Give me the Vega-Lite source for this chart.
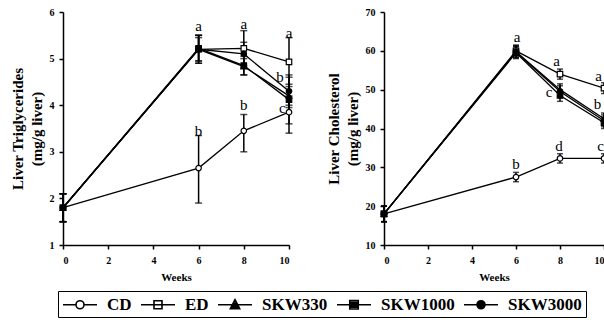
{
  "$schema": "https://vega.github.io/schema/vega-lite/v6.json",
  "padding": {"left": 10, "top": 7, "right": 0, "bottom": 0},
  "background": "white",
  "bounds": "flush",
  "config": {
    "view": {"stroke": null},
    "axis": {
      "grid": false,
      "labelFont": "Liberation Serif",
      "labelFontWeight": "bold",
      "labelFontSize": 10,
      "labelColor": "black",
      "titleFont": "Liberation Serif",
      "titleFontWeight": "bold",
      "titleColor": "black",
      "domainColor": "black",
      "domainWidth": 1.5,
      "tickColor": "black",
      "tickWidth": 1.5,
      "tickSize": 4
    },
    "axisX": {"titleFontSize": 11, "titlePadding": 6, "labelPadding": 6},
    "axisY": {"titleFontSize": 15, "titleLineHeight": 19, "titlePadding": 5, "labelPadding": 5}
  },
  "datasets": {
    "tg": [
      {"diet": "CD", "week": 0, "value": 1.8, "lo": 1.5, "hi": 2.1},
      {"diet": "CD", "week": 6, "value": 2.65, "lo": 1.9, "hi": 3.35},
      {"diet": "CD", "week": 8, "value": 3.45, "lo": 3.0, "hi": 3.8},
      {"diet": "CD", "week": 10, "value": 3.85, "lo": 3.4, "hi": 4.2},
      {"diet": "ED", "week": 0, "value": 1.8, "lo": 1.5, "hi": 2.1},
      {"diet": "ED", "week": 6, "value": 5.2, "lo": 4.9, "hi": 5.5},
      {"diet": "ED", "week": 8, "value": 5.22, "lo": 4.8, "hi": 5.6},
      {"diet": "ED", "week": 10, "value": 4.93, "lo": 4.4, "hi": 5.45},
      {"diet": "SKW330", "week": 0, "value": 1.8, "lo": 1.5, "hi": 2.1},
      {"diet": "SKW330", "week": 6, "value": 5.2, "lo": 4.95, "hi": 5.45},
      {"diet": "SKW330", "week": 8, "value": 4.83, "lo": 4.65, "hi": 5.0},
      {"diet": "SKW330", "week": 10, "value": 4.2, "lo": 3.95, "hi": 4.45},
      {"diet": "SKW1000", "week": 0, "value": 1.8, "lo": 1.5, "hi": 2.1},
      {"diet": "SKW1000", "week": 6, "value": 5.22, "lo": 4.95, "hi": 5.5},
      {"diet": "SKW1000", "week": 8, "value": 4.85, "lo": 4.65, "hi": 5.05},
      {"diet": "SKW1000", "week": 10, "value": 4.12, "lo": 3.6, "hi": 4.65},
      {"diet": "SKW3000", "week": 0, "value": 1.8, "lo": 1.5, "hi": 2.1},
      {"diet": "SKW3000", "week": 6, "value": 5.2, "lo": 4.9, "hi": 5.5},
      {"diet": "SKW3000", "week": 8, "value": 5.1, "lo": 4.85, "hi": 5.35},
      {"diet": "SKW3000", "week": 10, "value": 4.3, "lo": 4.0, "hi": 4.6}
    ],
    "ch": [
      {"diet": "CD", "week": 0, "value": 18, "lo": 16, "hi": 20},
      {"diet": "CD", "week": 6, "value": 27.5, "lo": 26.3, "hi": 28.7},
      {"diet": "CD", "week": 8, "value": 32.3, "lo": 31.1, "hi": 33.5},
      {"diet": "CD", "week": 10, "value": 32.3, "lo": 31.1, "hi": 33.5},
      {"diet": "ED", "week": 0, "value": 18, "lo": 16, "hi": 20},
      {"diet": "ED", "week": 6, "value": 60, "lo": 58.5, "hi": 61.5},
      {"diet": "ED", "week": 8, "value": 54, "lo": 52.7, "hi": 55.3},
      {"diet": "ED", "week": 10, "value": 50.4, "lo": 49, "hi": 51.8},
      {"diet": "SKW330", "week": 0, "value": 18, "lo": 16, "hi": 20},
      {"diet": "SKW330", "week": 6, "value": 59.8, "lo": 58.3, "hi": 61.3},
      {"diet": "SKW330", "week": 8, "value": 50, "lo": 48.5, "hi": 51.5},
      {"diet": "SKW330", "week": 10, "value": 42.5, "lo": 41, "hi": 44},
      {"diet": "SKW1000", "week": 0, "value": 18, "lo": 16, "hi": 20},
      {"diet": "SKW1000", "week": 6, "value": 59.5, "lo": 58, "hi": 61},
      {"diet": "SKW1000", "week": 8, "value": 48.5, "lo": 47, "hi": 50},
      {"diet": "SKW1000", "week": 10, "value": 41.5, "lo": 40, "hi": 43},
      {"diet": "SKW3000", "week": 0, "value": 18, "lo": 16, "hi": 20},
      {"diet": "SKW3000", "week": 6, "value": 59.7, "lo": 58.2, "hi": 61.2},
      {"diet": "SKW3000", "week": 8, "value": 49.5, "lo": 48, "hi": 51},
      {"diet": "SKW3000", "week": 10, "value": 42, "lo": 40.5, "hi": 43.5}
    ],
    "tgLab": [
      {"week": 6, "value": 5.7, "label": "a"},
      {"week": 8, "value": 5.75, "label": "a"},
      {"week": 10, "value": 5.55, "label": "a"},
      {"week": 9.6, "value": 4.6, "label": "b"},
      {"week": 6, "value": 3.45, "label": "b"},
      {"week": 8, "value": 4.0, "label": "b"},
      {"week": 9.7, "value": 3.95, "label": "c"}
    ],
    "chLab": [
      {"week": 6.05, "value": 63.5, "label": "a"},
      {"week": 7.85, "value": 57.4, "label": "a"},
      {"week": 9.75, "value": 53.6, "label": "a"},
      {"week": 9.7, "value": 46.4, "label": "b"},
      {"week": 7.5, "value": 49.3, "label": "c"},
      {"week": 6, "value": 30.8, "label": "b"},
      {"week": 7.95, "value": 35.6, "label": "d"},
      {"week": 9.85, "value": 35.6, "label": "c"}
    ],
    "diets": [
      {"diet": "CD"}, {"diet": "ED"}, {"diet": "SKW330"}, {"diet": "SKW1000"}, {"diet": "SKW3000"}
    ]
  },
  "hconcat": [
    {
      "width": 226,
      "height": 233,
      "resolve": {"scale": {"shape": "independent", "fill": "independent"}},
      "layer": [
        {
          "data": {"name": "tg"},
          "mark": {"type": "line", "color": "black", "strokeWidth": 1.3},
          "encoding": {
            "x": {"field": "week", "type": "quantitative", "scale": {"domain": [0, 10]}, "axis": {"values": [0, 2, 4, 6, 8, 10], "title": "Weeks"}},
            "y": {"field": "value", "type": "quantitative", "scale": {"domain": [1, 6]}, "axis": {"values": [1, 2, 3, 4, 5, 6], "title": ["Liver Triglycerides", "(mg/g liver)"]}},
            "detail": {"field": "diet"}
          }
        },
        {
          "data": {"name": "tg"},
          "mark": {"type": "rule", "color": "black", "strokeWidth": 1.5},
          "encoding": {
            "x": {"field": "week", "type": "quantitative", "axis": {"values": [0, 2, 4, 6, 8, 10], "title": "Weeks"}},
            "y": {"field": "lo", "type": "quantitative", "axis": {"values": [1, 2, 3, 4, 5, 6], "title": ["Liver Triglycerides", "(mg/g liver)"]}},
            "y2": {"field": "hi"}
          }
        },
        {
          "data": {"name": "tg"},
          "mark": {"type": "tick", "color": "black", "orient": "horizontal", "size": 7, "thickness": 1.5},
          "encoding": {
            "x": {"field": "week", "type": "quantitative", "axis": {"values": [0, 2, 4, 6, 8, 10], "title": "Weeks"}},
            "y": {"field": "lo", "type": "quantitative", "axis": {"values": [1, 2, 3, 4, 5, 6], "title": ["Liver Triglycerides", "(mg/g liver)"]}}
          }
        },
        {
          "data": {"name": "tg"},
          "mark": {"type": "tick", "color": "black", "orient": "horizontal", "size": 7, "thickness": 1.5},
          "encoding": {
            "x": {"field": "week", "type": "quantitative", "axis": {"values": [0, 2, 4, 6, 8, 10], "title": "Weeks"}},
            "y": {"field": "hi", "type": "quantitative", "axis": {"values": [1, 2, 3, 4, 5, 6], "title": ["Liver Triglycerides", "(mg/g liver)"]}}
          }
        },
        {
          "data": {"name": "tg"},
          "mark": {"type": "point", "filled": true, "stroke": "black", "strokeWidth": 1.2, "size": 30, "opacity": 1},
          "encoding": {
            "x": {"field": "week", "type": "quantitative", "axis": {"values": [0, 2, 4, 6, 8, 10], "title": "Weeks"}},
            "y": {"field": "value", "type": "quantitative", "axis": {"values": [1, 2, 3, 4, 5, 6], "title": ["Liver Triglycerides", "(mg/g liver)"]}},
            "shape": {"field": "diet", "type": "nominal", "scale": {"domain": ["CD", "ED", "SKW330", "SKW1000", "SKW3000"], "range": ["circle", "square", "triangle-up", "square", "circle"]}, "legend": null},
            "fill": {"field": "diet", "type": "nominal", "scale": {"domain": ["CD", "ED", "SKW330", "SKW1000", "SKW3000"], "range": ["white", "white", "black", "black", "black"]}, "legend": null}
          }
        },
        {
          "data": {"name": "tgLab"},
          "mark": {"type": "text", "font": "Liberation Serif", "fontSize": 15, "fill": "black", "baseline": "middle"},
          "encoding": {
            "x": {"field": "week", "type": "quantitative", "axis": {"values": [0, 2, 4, 6, 8, 10], "title": "Weeks"}},
            "y": {"field": "value", "type": "quantitative", "axis": {"values": [1, 2, 3, 4, 5, 6], "title": ["Liver Triglycerides", "(mg/g liver)"]}},
            "text": {"field": "label"}
          }
        },
        {
          "data": {"name": "diets"},
          "transform": [{"filter": "datum.diet === 'none'"}],
          "mark": {"type": "point", "filled": false, "color": "black", "strokeWidth": 1.6},
          "encoding": {
            "shape": {
              "field": "diet", "type": "nominal",
              "scale": {
                "domain": ["CD", "ED", "SKW330", "SKW1000", "SKW3000"],
                "range": [
                  "M-1,0H0.53M1.47,0H3M0.53,0A0.47,0.47 0 1,0 1.47,0A0.47,0.47 0 1,0 0.53,0",
                  "M-1,0H3M0.53,-0.47H1.47V0.47H0.53Z",
                  "M-1,0H3M1,-0.6L1.55,0.45H0.45ZM0.87,-0.35H1.13M0.76,-0.15H1.24M0.65,0.05H1.35M0.55,0.25H1.45",
                  "M-1,0H3M0.5,-0.5H1.5V0.5H0.5ZM0.5,-0.3H1.5M0.5,-0.1H1.5M0.5,0.1H1.5M0.5,0.3H1.5",
                  "M-1,0H3M0.53,0A0.47,0.47 0 1,0 1.47,0A0.47,0.47 0 1,0 0.53,0M0.64,-0.3H1.36M0.54,-0.1H1.46M0.54,0.1H1.46M0.64,0.3H1.36M0.78,0A0.22,0.22 0 1,0 1.22,0A0.22,0.22 0 1,0 0.78,0"
                ]
              },
              "legend": {
                "orient": "none", "legendX": -5, "legendY": 279,
                "direction": "horizontal", "columns": 5, "title": null,
                "strokeColor": "black", "padding": 4,
                "labelFont": "Liberation Serif", "labelFontSize": 17, "labelFontWeight": "bold", "labelColor": "black",
                "labelExpr": "datum.label === 'SKW3000' ? datum.label + '\u2003\u2003' : datum.label",
                "symbolSize": 289, "symbolStrokeWidth": 1.6, "symbolStrokeColor": "black", "symbolOpacity": 1,
                "labelOffset": 26, "columnPadding": 5
              }
            }
          }
        }
      ]
    },
    {
      "width": 220,
      "height": 233,
      "layer": [
        {
          "data": {"name": "ch"},
          "mark": {"type": "line", "color": "black", "strokeWidth": 1.3},
          "encoding": {
            "x": {"field": "week", "type": "quantitative", "scale": {"domain": [0, 10]}, "axis": {"values": [0, 2, 4, 6, 8, 10], "title": "Weeks"}},
            "y": {"field": "value", "type": "quantitative", "scale": {"domain": [10, 70]}, "axis": {"values": [10, 20, 30, 40, 50, 60, 70], "title": ["Liver Cholesterol", "(mg/g liver)"]}},
            "detail": {"field": "diet"}
          }
        },
        {
          "data": {"name": "ch"},
          "mark": {"type": "rule", "color": "black", "strokeWidth": 1.5},
          "encoding": {
            "x": {"field": "week", "type": "quantitative", "axis": {"values": [0, 2, 4, 6, 8, 10], "title": "Weeks"}},
            "y": {"field": "lo", "type": "quantitative", "axis": {"values": [10, 20, 30, 40, 50, 60, 70], "title": ["Liver Cholesterol", "(mg/g liver)"]}},
            "y2": {"field": "hi"}
          }
        },
        {
          "data": {"name": "ch"},
          "mark": {"type": "tick", "color": "black", "orient": "horizontal", "size": 6, "thickness": 1.5},
          "encoding": {
            "x": {"field": "week", "type": "quantitative", "axis": {"values": [0, 2, 4, 6, 8, 10], "title": "Weeks"}},
            "y": {"field": "lo", "type": "quantitative", "axis": {"values": [10, 20, 30, 40, 50, 60, 70], "title": ["Liver Cholesterol", "(mg/g liver)"]}}
          }
        },
        {
          "data": {"name": "ch"},
          "mark": {"type": "tick", "color": "black", "orient": "horizontal", "size": 6, "thickness": 1.5},
          "encoding": {
            "x": {"field": "week", "type": "quantitative", "axis": {"values": [0, 2, 4, 6, 8, 10], "title": "Weeks"}},
            "y": {"field": "hi", "type": "quantitative", "axis": {"values": [10, 20, 30, 40, 50, 60, 70], "title": ["Liver Cholesterol", "(mg/g liver)"]}}
          }
        },
        {
          "data": {"name": "ch"},
          "mark": {"type": "point", "filled": true, "stroke": "black", "strokeWidth": 1.2, "size": 30, "opacity": 1},
          "encoding": {
            "x": {"field": "week", "type": "quantitative", "axis": {"values": [0, 2, 4, 6, 8, 10], "title": "Weeks"}},
            "y": {"field": "value", "type": "quantitative", "axis": {"values": [10, 20, 30, 40, 50, 60, 70], "title": ["Liver Cholesterol", "(mg/g liver)"]}},
            "shape": {"field": "diet", "type": "nominal", "scale": {"domain": ["CD", "ED", "SKW330", "SKW1000", "SKW3000"], "range": ["circle", "square", "triangle-up", "square", "circle"]}, "legend": null},
            "fill": {"field": "diet", "type": "nominal", "scale": {"domain": ["CD", "ED", "SKW330", "SKW1000", "SKW3000"], "range": ["white", "white", "black", "black", "black"]}, "legend": null}
          }
        },
        {
          "data": {"name": "chLab"},
          "mark": {"type": "text", "font": "Liberation Serif", "fontSize": 15, "fill": "black", "baseline": "middle"},
          "encoding": {
            "x": {"field": "week", "type": "quantitative", "axis": {"values": [0, 2, 4, 6, 8, 10], "title": "Weeks"}},
            "y": {"field": "value", "type": "quantitative", "axis": {"values": [10, 20, 30, 40, 50, 60, 70], "title": ["Liver Cholesterol", "(mg/g liver)"]}},
            "text": {"field": "label"}
          }
        }
      ]
    }
  ],
  "spacing": 95
}
